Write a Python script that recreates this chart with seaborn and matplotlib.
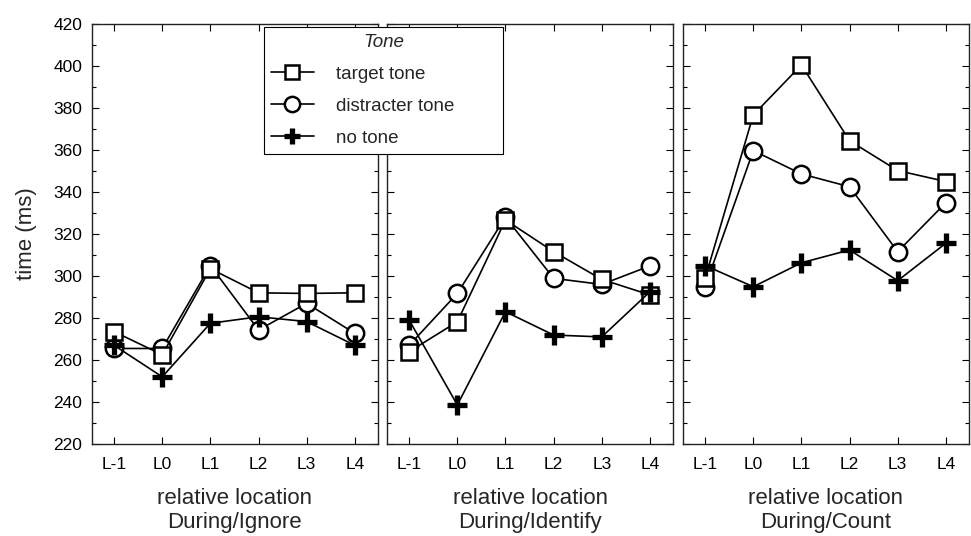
import numpy as np
import pandas as pd
import seaborn as sns
import matplotlib.pyplot as plt
from matplotlib.lines import Line2D
from matplotlib.ticker import MultipleLocator

locations = ["L-1", "L0", "L1", "L2", "L3", "L4"]
conditions = ["During/Ignore", "During/Identify", "During/Count"]
tones = ["target tone", "distracter tone", "no tone"]

# values (ms)
target_tone = [
    [273.5, 262.5, 303.5, 292.0, 291.7, 292.0],
    [264.0, 278.2, 326.7, 311.6, 298.4, 291.0],
    [299.0, 376.7, 400.5, 364.4, 350.2, 345.0],
]
distracter_tone = [
    [265.5, 265.5, 305.0, 274.3, 287.0, 272.7],
    [267.0, 291.7, 328.0, 298.9, 296.0, 304.8],
    [295.0, 359.7, 348.6, 342.5, 311.6, 334.9],
]
no_tone = [
    [267.0, 252.0, 277.5, 280.6, 278.3, 267.0],
    [279.0, 238.6, 283.0, 271.9, 271.0, 292.5],
    [305.0, 294.9, 306.3, 312.4, 297.8, 315.6],
]

rows = []
for c, cond in enumerate(conditions):
    for tone, vals in zip(tones, [target_tone, distracter_tone, no_tone]):
        for i, loc in enumerate(locations):
            rows.append({"condition": cond, "tone": tone, "pos": i, "time": vals[c][i]})
df = pd.DataFrame(rows)

sns.set_style("ticks")
plt.rcParams["font.family"] = ["Liberation Sans", "DejaVu Sans"]

styles = {
    "target tone": dict(marker="s", ms=12, mfc="white", mec="black", mew=1.8),
    "distracter tone": dict(marker="o", ms=12.5, mfc="white", mec="black", mew=1.8),
    "no tone": dict(marker="+", ms=14, mec="black", mew=3.8),
}
legend_styles = {
    "target tone": dict(marker="s", ms=10, mfc="white", mec="black", mew=1.8),
    "distracter tone": dict(marker="o", ms=11, mfc="white", mec="black", mew=1.8),
    "no tone": dict(marker="+", ms=12, mec="black", mew=3.8),
}
draw_order = ["distracter tone", "target tone", "no tone"]

fig = plt.figure(figsize=(9.71, 5.36), dpi=100)
lefts = [0.0947, 0.3986, 0.7034]
for k, cond in enumerate(conditions):
    ax = fig.add_axes([lefts[k], 0.1716, 0.2945, 0.7836])
    sub = df[df["condition"] == cond]
    for tone in draw_order:
        sns.lineplot(data=sub[sub["tone"] == tone], x="pos", y="time", ax=ax,
                     color="black", linewidth=1.2, **styles[tone])
    ax.set_xlim(-0.46, 5.48)
    ax.set_ylim(220, 420)
    ax.set_xticks(range(len(locations)))
    ax.set_xticklabels(locations)
    ax.yaxis.set_major_locator(MultipleLocator(20))
    ax.yaxis.set_minor_locator(MultipleLocator(10))
    ax.tick_params(which="both", direction="in", top=True, right=True,
                   labelsize=12.5, colors="black")
    ax.tick_params(axis="x", pad=9)
    ax.tick_params(axis="y", pad=7)
    ax.tick_params(which="major", length=5, width=0.8)
    ax.tick_params(which="minor", length=3, width=0.8)
    ax.tick_params(axis="x", which="minor", top=False, bottom=False)
    for sp in ax.spines.values():
        sp.set_linewidth(1.0)
        sp.set_color("#222222")
    ax.set_xlabel("relative location\n" + cond, fontsize=16, labelpad=12, linespacing=1.2)
    if k == 0:
        ax.set_ylabel("time (ms)", fontsize=16, labelpad=12)
    else:
        ax.set_ylabel("")
        ax.tick_params(labelleft=False)

handles = [Line2D([], [], color="black", linewidth=1.2, **legend_styles[t]) for t in tones]
leg = fig.legend(handles, tones, loc="upper left",
                 bbox_to_anchor=(264 / 971, 1 - 153 / 536, 239 / 971, 126 / 536),
                 mode="expand", borderaxespad=0, title="Tone", fontsize=13.5,
                 title_fontsize=13.5, frameon=True, fancybox=False, edgecolor="black",
                 framealpha=1, handlelength=2.3, handletextpad=1.2,
                 borderpad=0.35, labelspacing=0.8)
leg.get_title().set_fontstyle("italic")
leg.get_frame().set_linewidth(0.8)

fig.savefig("out.png", dpi=100)
